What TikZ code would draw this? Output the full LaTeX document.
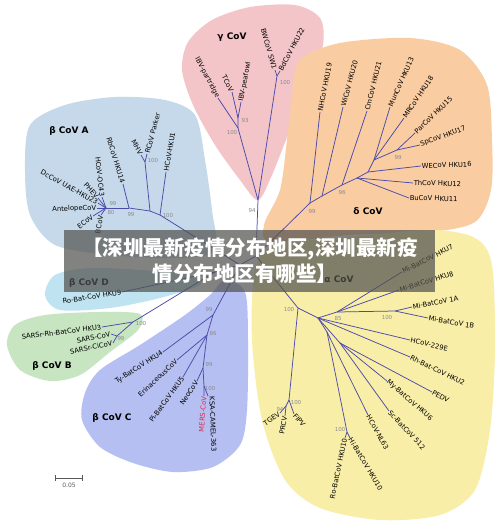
\documentclass[tikz,border=0pt]{standalone}
\usepackage{fontspec}
\setmainfont{DejaVu Sans}
\newfontfamily\cjk{Noto Sans CJK SC}
\usepackage{tikz}
\definecolor{gammac}{HTML}{F3C5C9}
\definecolor{betaA}{HTML}{C6D9EB}
\definecolor{deltac}{HTML}{F9CCA2}
\definecolor{betaD}{HTML}{BFE3F1}
\definecolor{betaB}{HTML}{C6E5C0}
\definecolor{betaC}{HTML}{B5BFF1}
\definecolor{alphac}{HTML}{F8EEA8}
\definecolor{branchc}{HTML}{4B4BAA}
\definecolor{bootc}{HTML}{8C8C8C}
\definecolor{mers}{HTML}{E0284A}
\definecolor{bannerc}{HTML}{535350}

\begin{document}
\begin{tikzpicture}[x=1pt, y=-1pt,
    branch/.style={draw=branchc, line width=0.75pt},
    taxon/.style={font=\fontsize{6.8}{8}\selectfont, inner sep=0.6pt},
    boot/.style={font=\fontsize{5.5}{6}\selectfont, text=bootc, inner sep=0pt},
    cladelbl/.style={font=\fontsize{9}{10}\selectfont\bfseries, inner sep=0pt},
    bannertxt/.style={font=\cjk\bfseries\fontsize{20.5}{22}\selectfont, text=white, inner sep=0pt}
  ]
    \fill[white] (0,0) rectangle (500,523);
    \useasboundingbox (0,0) rectangle (500,523);

    \fill[gammac] plot[smooth cycle] coordinates {(258,200) (240,180) (215,145) (193,105) (182,70) (188,42)
      (212,20) (250,7) (295,5) (320,18) (323,45) (310,85) (290,130) (272,175)};
    \fill[betaA] plot[smooth cycle] coordinates {(30,125) (65,105) (115,97) (165,100) (195,115) (205,160)
      (212,210) (215,250) (180,258) (110,255) (55,245) (30,215) (25,170)};
    \fill[deltac] plot[smooth cycle] coordinates {(300,60) (340,43) (410,38) (460,50) (487,85) (492,140)
      (491,190) (475,222) (430,232) (350,235) (272,242) (264,225) (280,190) (287,140) (292,95)};
    \fill[betaD] plot[smooth cycle] coordinates {(45,295) (55,275) (90,268) (140,270) (190,275) (200,285)
      (160,298) (110,308) (60,310)};
    \fill[betaB] plot[smooth cycle] coordinates {(7,345) (15,325) (45,315) (100,312) (140,314) (138,330)
      (110,352) (80,375) (50,381) (20,370)};
    \fill[betaC] plot[smooth cycle] coordinates {(225,280) (245,292) (248,340) (247,410) (240,445) (213,467)
      (173,472) (133,463) (100,447) (82,420) (85,393) (100,370) (140,345) (185,315) (210,295)};
    \fill[alphac] plot[smooth cycle] coordinates {(255,270) (275,245) (340,238) (430,230) (475,238) (492,265)
      (495,350) (490,430) (475,490) (440,515) (380,520) (320,508) (285,480) (262,420) (252,340)};

    % inner nodes and tips
    \coordinate (R) at (256,256);
    \coordinate (G0) at (258,200);
    \coordinate (G1) at (238,128);
    \coordinate (G3) at (238,118);
    \coordinate (G2) at (277,76);
    \coordinate (ibvpart) at (218,98);
    \coordinate (tcov) at (232,92);
    \coordinate (ibvpea) at (241,102);
    \coordinate (bwcov) at (275,70);
    \coordinate (bdcov) at (280,71);

    \coordinate (B0) at (240,265);
    \coordinate (A1) at (160,215);
    \coordinate (A2) at (150,211);
    \coordinate (A3) at (145,162);
    \coordinate (A4) at (129,208);
    \coordinate (A5) at (106,208);
    \coordinate (hku1) at (166,172);
    \coordinate (mhv) at (141,155);
    \coordinate (rcov) at (147,154);
    \coordinate (hku14) at (123,184);
    \coordinate (oc43) at (102,197);
    \coordinate (phev) at (98,198);
    \coordinate (dccov) at (98,203);
    \coordinate (antel) at (97,208);
    \coordinate (ecov) at (93,216);
    \coordinate (bcov) at (101,215);

    \coordinate (BBD) at (215,272);
    \coordinate (hku9) at (122,292);
    \coordinate (Bn) at (133,322);
    \coordinate (Bs) at (117,336);
    \coordinate (hku3) at (102,327);
    \coordinate (sars) at (111,334);
    \coordinate (civet) at (113,343);

    \coordinate (C0) at (213,315);
    \coordinate (C1) at (207,335);
    \coordinate (C3) at (203,368);
    \coordinate (C4) at (204,386);
    \coordinate (hku4) at (163,352);
    \coordinate (erina) at (177,360);
    \coordinate (hku5) at (183,377);
    \coordinate (neo) at (197,381);
    \coordinate (merscov) at (204,396);
    \coordinate (ksa) at (208,396);

    \coordinate (D0) at (310,203);
    \coordinate (D1) at (322,196);
    \coordinate (D2) at (342,185);
    \coordinate (D3) at (357,178);
    \coordinate (D4) at (368,172);
    \coordinate (D5) at (374,160);
    \coordinate (D6) at (397,150);
    \coordinate (hku19) at (320,112);
    \coordinate (hku20) at (343,107);
    \coordinate (hku21) at (367,111);
    \coordinate (hku13) at (390,107);
    \coordinate (hku18) at (404,118);
    \coordinate (hku15) at (415,133);
    \coordinate (hku17) at (420,145);
    \coordinate (hku16) at (421,166);
    \coordinate (hku12) at (413,183);
    \coordinate (hku11) at (409,198);

    \coordinate (al1) at (298,308);
    \coordinate (al2) at (289,400);
    \coordinate (al3) at (286,406);
    \coordinate (al4) at (318,318);
    \coordinate (al5) at (337,312);
    \coordinate (al6) at (395,311);
    \coordinate (al8) at (340,343);
    \coordinate (al9) at (327,332);
    \coordinate (al10) at (347,432);
    \coordinate (tgev) at (280,413);
    \coordinate (prcv) at (285,416);
    \coordinate (fipv) at (294,414);
    \coordinate (hku7) at (402,272);
    \coordinate (hku8) at (399,290);
    \coordinate (mi1a) at (412,307);
    \coordinate (mi1b) at (428,318);
    \coordinate (e229) at (410,340);
    \coordinate (hku2) at (410,357);
    \coordinate (pedv) at (432,392);
    \coordinate (hku6) at (387,381);
    \coordinate (sc512) at (389,411);
    \coordinate (nl63) at (368,415);
    \coordinate (rohku10) at (345,438);
    \coordinate (hihku10) at (350,438);

    \draw[branch] (R) -- (G0);
    \draw[branch] (R) -- (D0);
    \draw[branch] (R) -- (B0);
    \draw[branch] (R) -- (al1);

    \draw[branch] (G0) -- (G1) -- (ibvpart);
    \draw[branch] (G1) -- (G3) -- (tcov);
    \draw[branch] (G3) -- (ibvpea);
    \draw[branch] (G0) -- (G2) -- (bwcov);
    \draw[branch] (G2) -- (bdcov);

    \draw[branch] (B0) -- (A1) -- (hku1);
    \draw[branch] (A1) -- (A2) -- (A3) -- (mhv);
    \draw[branch] (A3) -- (rcov);
    \draw[branch] (A2) -- (A4) -- (hku14);
    \draw[branch] (A4) -- (A5);
    \draw[branch] (A5) -- (oc43);
    \draw[branch] (A5) -- (phev);
    \draw[branch] (A5) -- (dccov);
    \draw[branch] (A5) -- (antel);
    \draw[branch] (A5) -- (ecov);
    \draw[branch] (A5) -- (bcov);

    \draw[branch] (B0) -- (BBD) -- (hku9);
    \draw[branch] (BBD) -- (Bn) -- (hku3);
    \draw[branch] (Bn) -- (Bs) -- (sars);
    \draw[branch] (Bs) -- (civet);

    \draw[branch] (B0) -- (C0) -- (hku4);
    \draw[branch] (C0) -- (C1) -- (erina);
    \draw[branch] (C1) -- (hku5);
    \draw[branch] (C1) -- (C3) -- (neo);
    \draw[branch] (C3) -- (C4) -- (merscov);
    \draw[branch] (C4) -- (ksa);

    \draw[branch] (D0) -- (hku19);
    \draw[branch] (D0) -- (D1) -- (hku20);
    \draw[branch] (D1) -- (D2) -- (hku21);
    \draw[branch] (D2) -- (D3) -- (hku11);
    \draw[branch] (D3) -- (hku12);
    \draw[branch] (D3) -- (D4) -- (hku16);
    \draw[branch] (D4) -- (D5) -- (hku13);
    \draw[branch] (D5) -- (hku18);
    \draw[branch] (D5) -- (D6) -- (hku15);
    \draw[branch] (D6) -- (hku17);

    \draw[branch] (al1) -- (al2) -- (fipv);
    \draw[branch] (al2) -- (al3) -- (tgev);
    \draw[branch] (al3) -- (prcv);
    \draw[branch] (al1) -- (al4) -- (al5) -- (hku7);
    \draw[branch] (al5) -- (hku8);
    \draw[branch] (al5) -- (al6) -- (mi1a);
    \draw[branch] (al6) -- (mi1b);
    \draw[branch] (al4) -- (e229);
    \draw[branch] (al4) -- (hku2);
    \draw[branch] (al4) -- (al8) -- (pedv);
    \draw[branch] (al8) -- (hku6);
    \draw[branch] (al8) -- (sc512);
    \draw[branch] (al4) -- (al9) -- (nl63);
    \draw[branch] (al9) -- (al10) -- (rohku10);
    \draw[branch] (al10) -- (hihku10);

    % taxon labels
    \node[taxon, anchor=east, rotate=-62] (ibvpart-l) at (ibvpart) {IBV-partridge};
    \node[taxon, anchor=east, rotate=-63] (tcov-l) at (tcov) {TCoV};
    \node[taxon, anchor=west, rotate=79] (ibvpea-l) at (ibvpea) {IBV-peafowl};
    \node[taxon, anchor=east, rotate=-74] (bwcov-l) at (bwcov) {BWCoV SW1};
    \node[taxon, anchor=west, rotate=62] (bdcov-l) at (bdcov) {BdCoV HKU22};

    \node[taxon, anchor=west, rotate=80] (hku1-l) at (hku1) {HCoV-HKU1};
    \node[taxon, anchor=west, rotate=75] (rcov-l) at (rcov) {RCoV Parker};
    \node[taxon, anchor=east, rotate=-62] (mhv-l) at (mhv) {MHV};
    \node[taxon, anchor=east, rotate=-73] (hku14-l) at (hku14) {RbCoV HKU14};
    \node[taxon, anchor=east, rotate=-84] (oc43-l) at (oc43) {HCoV-OC43};
    \node[taxon, anchor=east, rotate=-47] (phev-l) at (phev) {PHEV};
    \node[taxon, anchor=east, rotate=-29] (dccov-l) at (dccov) {DcCoV UAE-HKU23};
    \node[taxon, anchor=east, rotate=2] (antel-l) at (antel) {AntelopeCoV};
    \node[taxon, anchor=east, rotate=37] (ecov-l) at (ecov) {ECoV};
    \node[taxon, anchor=east, rotate=80] (bcov-l) at (bcov) {BCoV};

    \node[taxon, anchor=east, rotate=9] (hku9-l) at (hku9) {Ro-Bat-CoV HKU9};
    \node[taxon, anchor=east, rotate=7] (hku3-l) at (hku3) {SARSr-Rh-BatCoV HKU3};
    \node[taxon, anchor=east, rotate=12] (sars-l) at (sars) {SARS-CoV};
    \node[taxon, anchor=east, rotate=12] (civet-l) at (civet) {SARSr-CiCoV};

    \node[taxon, anchor=east, rotate=33] (hku4-l) at (hku4) {Ty-BatCoV HKU4};
    \node[taxon, anchor=east, rotate=43] (erina-l) at (erina) {ErinaceousCoV};
    \node[taxon, anchor=east, rotate=54] (hku5-l) at (hku5) {Pi-BatCoV HKU5};
    \node[taxon, anchor=east, rotate=56] (neo-l) at (neo) {NeoCoV};
    \node[taxon, anchor=east, rotate=86, text=mers] (merscov-l) at (merscov) {MERS-CoV};
    \node[taxon, anchor=west, rotate=-88] (ksa-l) at (212,396) {KSA-CAMEL-363};

    \node[taxon, anchor=west, rotate=79] (hku19-l) at (hku19) {NHCoV HKU19};
    \node[taxon, anchor=west, rotate=75] (hku20-l) at (hku20) {WiCoV HKU20};
    \node[taxon, anchor=west, rotate=76] (hku21-l) at (hku21) {CmCoV HKU21};
    \node[taxon, anchor=west, rotate=66] (hku13-l) at (hku13) {MunCoV HKU13};
    \node[taxon, anchor=west, rotate=56] (hku18-l) at (hku18) {MRCoV HKU18};
    \node[taxon, anchor=west, rotate=44] (hku15-l) at (hku15) {ParCoV HKU15};
    \node[taxon, anchor=west, rotate=20] (hku17-l) at (hku17) {SpCoV HKU17};
    \node[taxon, anchor=west, rotate=2] (hku16-l) at (hku16) {WECoV HKU16};
    \node[taxon, anchor=west, rotate=-1] (hku12-l) at (hku12) {ThCoV HKU12};
    \node[taxon, anchor=west, rotate=-1] (hku11-l) at (hku11) {BuCoV HKU11};

    \node[taxon, anchor=east, rotate=35] (tgev-l) at (tgev) {TGEV};
    \node[taxon, anchor=east, rotate=80] (prcv-l) at (prcv) {PRCV};
    \node[taxon, anchor=west, rotate=-50] (fipv-l) at (fipv) {FIPV};
    \node[taxon, anchor=west, rotate=27] (hku7-l) at (hku7) {Mi-BatCoV HKU7};
    \node[taxon, anchor=west, rotate=17] (hku8-l) at (hku8) {Mi-BatCoV HKU8};
    \node[taxon, anchor=west, rotate=11] (mi1a-l) at (mi1a) {Mi-BatCoV 1A};
    \node[taxon, anchor=west, rotate=-10] (mi1b-l) at (mi1b) {Mi-BatCoV 1B};
    \node[taxon, anchor=west, rotate=-13] (e229-l) at (e229) {HCoV-229E};
    \node[taxon, anchor=west, rotate=-26] (hku2-l) at (hku2) {Rh-Bat-CoV HKU2};
    \node[taxon, anchor=west, rotate=-28] (pedv-l) at (pedv) {PEDV};
    \node[taxon, anchor=west, rotate=-41] (hku6-l) at (hku6) {My-BatCoV HKU6};
    \node[taxon, anchor=west, rotate=-47] (sc512-l) at (sc512) {Sc-BatCoV 512};
    \node[taxon, anchor=west, rotate=-61] (nl63-l) at (nl63) {HCoV-NL63};
    \node[taxon, anchor=west, rotate=-59] (hihku10-l) at (hihku10) {Hi-BatCoV HKU10};
    \node[taxon, anchor=east, rotate=78] (rohku10-l) at (rohku10) {Ro-BatCoV HKU10};

    % bootstrap values
    \node[boot] (bG0) at (252,210) {94};
    \node[boot] (bG1) at (232,132) {100};
    \node[boot] (bG3) at (245,120) {93};
    \node[boot] (bG2) at (285,82) {100};
    \node[boot] (bA1) at (168,215) {100};
    \node[boot] (bA3) at (153,160) {100};
    \node[boot] (bA4) at (131,214) {99};
    \node[boot] (bA5) at (113,203) {99};
    \node[boot] (bA5b) at (111,212) {80};
    \node[boot] (bBn) at (141,323) {100};
    \node[boot] (bBs) at (121,338) {99};
    \node[boot] (bC0) at (209,309) {99};
    \node[boot] (bC1) at (213,333) {86};
    \node[boot] (bC3) at (209,364) {99};
    \node[boot] (bC4) at (210,388) {100};
    \node[boot] (bD0) at (312,211) {99};
    \node[boot] (bD2) at (342,192) {96};
    \node[boot] (bD6) at (398,157) {99};
    \node[boot] (bal1) at (289,309) {100};
    \node[boot] (bal2) at (296,402) {100};
    \node[boot] (bal3) at (280,409) {94};
    \node[boot] (bal5) at (338,318) {85};
    \node[boot] (bal6) at (387,317) {100};
    \node[boot] (bal10) at (340,429) {100};

    % clade names
    \node[cladelbl] (gamma-n) at (232,37) {γ CoV};
    \node[cladelbl] (betaA-n) at (69,131) {β CoV A};
    \node[cladelbl] (delta-n) at (368,211) {δ CoV};
    \node[cladelbl] (alpha-n) at (339,279) {α CoV};
    \node[cladelbl] (betaD-n) at (89,283) {β CoV D};
    \node[cladelbl] (betaB-n) at (52,366) {β CoV B};
    \node[cladelbl] (betaC-n) at (112,418) {β CoV C};

    \coordinate (sb1) at (55,478);
    \coordinate (sb2) at (83,478);
    \draw[gray!70!black, line width=0.6pt, |-|] (sb1) -- (sb2);
    \node[boot, text=gray!70!black, font=\fontsize{6}{7}\selectfont] (sb-l) at (69,485) {0.05};

    \fill[bannerc, fill opacity=0.72] (64,230) rectangle (435,292);
    \node[bannertxt] (ban1) at (250,249) {【深圳最新疫情分布地区,深圳最新疫};
    \node[bannertxt] (ban2) at (245,274) {情分布地区有哪些】};
  \end{tikzpicture}
\end{document}
